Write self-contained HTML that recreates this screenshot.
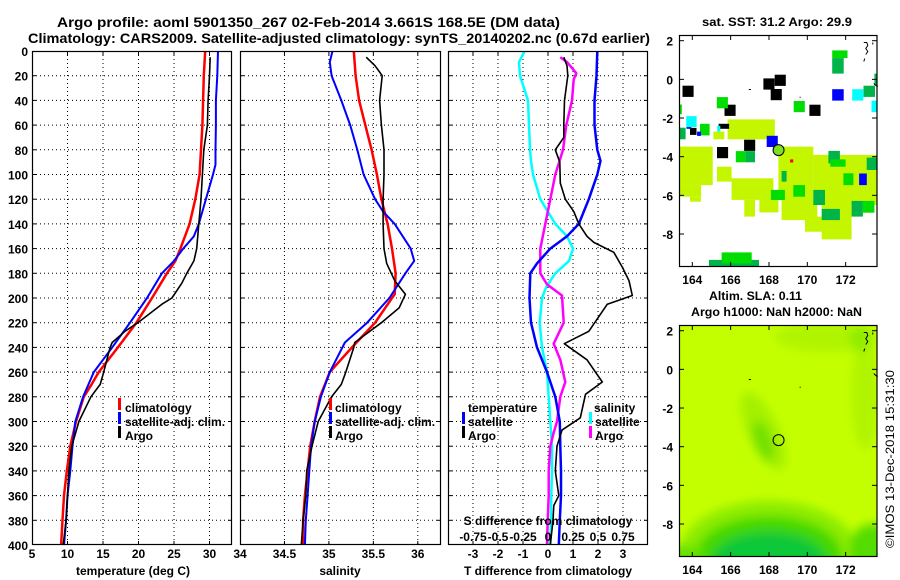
<!DOCTYPE html>
<html><head><meta charset="utf-8">
<style>
html,body{margin:0;padding:0;background:#fff;}
svg{display:block;font-family:"Liberation Sans",Arial,sans-serif;font-weight:bold;}
</style></head>
<body>
<svg id="fig" width="900" height="580" viewBox="0 0 900 580" xmlns="http://www.w3.org/2000/svg">
<defs>
<filter id="blur" x="-20%" y="-20%" width="140%" height="140%"><feGaussianBlur stdDeviation="5"/></filter>
<clipPath id="clipTop"><rect x="679" y="35" width="198" height="232"/></clipPath>
<clipPath id="clipBot"><rect x="679" y="325" width="198" height="232"/></clipPath>
<clipPath id="clipP1"><rect x="32" y="51" width="200" height="494"/></clipPath>
<clipPath id="clipP2"><rect x="240" y="51" width="201" height="494"/></clipPath>
<clipPath id="clipP3"><rect x="448" y="51" width="200" height="494"/></clipPath>
</defs>
<text x="57" y="27" font-size="14" textLength="503" lengthAdjust="spacingAndGlyphs">Argo profile: aoml 5901350_267 02-Feb-2014 3.661S 168.5E (DM data)</text>
<text x="28" y="43" font-size="14" textLength="622" lengthAdjust="spacingAndGlyphs">Climatology: CARS2009. Satellite-adjusted climatology: synTS_20140202.nc (0.67d earlier)</text>
<text x="702" y="26" font-size="12" textLength="150" lengthAdjust="spacingAndGlyphs">sat. SST: 31.2 Argo: 29.9</text>
<text x="709" y="300" font-size="12" textLength="93" lengthAdjust="spacingAndGlyphs">Altim. SLA: 0.11</text>
<text x="691" y="316" font-size="12" textLength="171" lengthAdjust="spacingAndGlyphs">Argo h1000: NaN h2000: NaN</text>
<text transform="translate(894,548) rotate(-90)" font-size="12" font-weight="normal" textLength="178" lengthAdjust="spacingAndGlyphs">©IMOS 13-Dec-2018 15:31:30</text>
<g id="panels"></g>
</svg>
<script>
// ---------------- data ----------------
const depthTicks = [0,20,40,60,80,100,120,140,160,180,200,220,240,260,280,300,320,340,360,380,400];
const tTicks = [5,10,15,20,25,30];
const sTicks = [34,34.5,35,35.5,36];
const dTicks = [-3,-2,-1,0,1,2,3];
const dTopTicks = ['-0.75','-0.5','-0.25','0','0.25','0.5','0.75'];
const lonTicks = [164,166,168,170,172];
const latTicks = [2,0,-2,-4,-6,-8];

const climDepth = [0,20,40,60,80,100,120,140,160,170,180,200,220,240,260,270,280,300,320,340,360,380,400];
const climT = [29.4,29.2,29.1,29.0,28.8,28.6,28.0,27.2,25.9,25.2,24.0,21.9,19.7,17.1,14.4,13.4,12.3,11.2,10.4,9.9,9.5,9.3,9.1];
const satDepth = [0,20,40,60,80,92,100,120,140,150,160,170,180,200,220,240,260,280,300,320,340,360,380,400];
const satT = [31.2,31.1,30.9,30.9,30.85,30.85,30.5,29.5,28.5,27.8,26.3,25.0,23.3,21.2,18.8,16.3,13.7,12.2,11.1,10.7,10.4,10.0,9.8,9.5];
const argoTDepth = [5,20,40,60,80,100,120,140,160,170,180,188,200,205,220,227,236,240,260,270,280,300,320,340,360,380,400];
const argoT = [30.1,30.0,29.8,29.7,29.2,29.0,28.8,28.5,28.2,27.8,26.8,26.1,24.7,23.3,19.9,18.1,16.3,16.0,15.1,14.6,13.3,11.6,10.6,10.2,10.0,9.8,9.4];

const climSDepth = [0,20,40,60,80,100,120,140,160,180,197,200,220,240,260,280,300,320,340,360,380,400];
const climS = [35.28,35.30,35.34,35.41,35.48,35.54,35.59,35.66,35.71,35.75,35.74,35.71,35.52,35.26,35.01,34.90,34.84,34.79,34.76,34.73,34.71,34.71];
const satSDepth = [0,9,20,40,60,80,100,120,130,140,160,170,180,200,220,236,260,280,300,320,340,360,380,400];
const satS = [35.04,35.01,35.03,35.14,35.24,35.32,35.39,35.52,35.61,35.74,35.92,35.96,35.86,35.68,35.43,35.18,35.01,34.91,34.84,34.80,34.78,34.76,34.74,34.73];
const argoSDepth = [5,12,20,40,60,80,100,120,140,160,172,186,197,208,220,236,240,260,270,280,300,320,340,360,380,400];
const argoS = [35.42,35.52,35.60,35.57,35.59,35.62,35.62,35.61,35.61,35.62,35.65,35.74,35.86,35.79,35.59,35.29,35.28,35.19,35.14,35.03,34.88,34.81,34.75,34.74,34.71,34.69];

const dTsatDepth = [0,20,40,60,80,89,100,120,140,150,160,172,180,200,220,240,260,280,300,320,340,360,380,400];
const dTsat = [1.97,1.94,1.86,1.86,1.97,2.1,1.97,1.63,1.23,0.76,0.09,-0.44,-0.71,-0.74,-0.68,-0.44,-0.04,0.29,0.47,0.49,0.52,0.52,0.47,0.43];
const dTargoDepth = [5,12,20,40,60,70,80,90,107,120,130,140,150,155,163,175,186,198,205,227,237,250,268,278,297,307,320,340,360,368,380,400];
const dTargo = [0.63,0.76,0.79,0.66,0.63,0.63,0.29,0.47,0.49,0.69,1.03,1.23,1.56,1.83,2.63,2.97,3.24,3.37,2.37,1.63,0.65,1.56,2.17,1.5,1.29,0.56,0.36,0.29,0.43,0.23,0.2,0.09];
const dSsatDepth = [0,9,20,40,60,80,89,100,120,140,150,160,170,180,191,200,220,240,260,280,300,320,340,360,380,400];
const dSsat = [-0.233,-0.29,-0.28,-0.20,-0.19,-0.18,-0.17,-0.15,-0.077,0.073,0.19,0.25,0.21,0.073,-0.017,-0.06,-0.083,-0.06,-0.01,0.007,0.023,0.04,0.04,0.033,0.03,0.023];
const dSargoDepth = [5,9,18,23,40,60,80,100,120,140,160,180,189,198,220,237,250,268,280,300,309,320,340,360,380,400];
const dSargo = [0.123,0.19,0.283,0.257,0.24,0.183,0.15,0.073,0.023,-0.027,-0.077,-0.077,-0.01,0.14,0.157,0.057,0.123,0.173,0.123,0.09,0.057,0.023,0.007,0.007,-0.003,-0.01];

// SST map patches: [lon0, lat0, lon1, lat1, colour]
const sstPatches = [
 [165.84,-3.1,168.3,-2.07,'Y'],[165.1,-3.1,165.67,-2.7,'Y'],
 [163.32,-5.47,165.06,-3.48,'Y'],[163.32,-6.07,164.45,-5.47,'Y'],[163.88,-6.33,164.45,-6.07,'Y'],
 [165.29,-5.29,166.05,-4.52,'Y'],
 [166.05,-6.24,168.23,-5.12,'Y'],[166.71,-7.1,167.27,-6.24,'Y'],[167.5,-6.88,168.49,-6.07,'Y'],
 [168.49,-6.24,170.31,-3.48,'Y'],[168.66,-7.28,170.52,-6.24,'Y'],[169.88,-7.88,170.92,-7.1,'Y'],
 [170.31,-6.5,173.65,-3.91,'Y'],[170.75,-8.28,172.31,-6.5,'Y'],
 [171.1,-4.34,171.7,-3.7,'D'],[171.2,-4.52,172.0,-4.14,'G'],[170.31,-6.5,170.92,-5.72,'D'],
 [172.31,-7.1,172.9,-6.29,'D'],[172.9,-6.9,173.5,-6.29,'G'],[170.75,-7.28,171.7,-6.7,'D'],
 [169.27,-6.07,169.88,-5.47,'G'],[168.1,-6.24,168.83,-5.72,'G'],[168.66,-5.29,168.92,-4.74,'D'],
 [171.88,-5.47,172.4,-4.86,'G'],[173.1,-4.69,173.65,-4.05,'D'],
 [164.87,-9.71,167.48,-9.34,'D'],[165.53,-9.52,167.1,-8.95,'G'],
 [163.32,-1.8,163.45,-1.3,'G'],[163.32,-3.1,163.65,-2.5,'D'],[164.4,-2.9,164.9,-2.3,'G'],
 [163.78-0.29,-0.62-0.29,163.78+0.29,-0.62+0.29,'K'],[168.0-0.29,-0.24-0.29,168.0+0.29,-0.24+0.29,'K'],
 [168.59-0.29,-0.05-0.29,168.59+0.29,-0.05+0.29,'K'],[168.38-0.29,-0.79-0.29,168.38+0.29,-0.79+0.29,'K'],
 [165.97-0.29,-1.6-0.29,165.97+0.29,-1.6+0.29,'K'],[170.4-0.29,-1.6-0.29,170.4+0.29,-1.6+0.29,'K'],
 [166.99-0.29,-3.41-0.29,166.99+0.29,-3.41+0.29,'K'],[165.58-0.29,-3.79-0.29,165.58+0.29,-3.79+0.29,'K'],
 [163.88,-2.87,164.22,-2.51,'K'],[165.37,-2.56,165.92,-2.3,'K'],
 [171.3,-1.1,171.9,-0.51,'B'],[167.88,-3.5,168.46,-2.92,'B'],[172.7,-5.47,173.1,-4.87,'B'],[163.7,-2.56,163.95,-2.33,'B'],[164.25,-2.92,164.45,-2.7,'B'],
 [172.34,-1.1,172.92,-0.51,'C'],[173.35,-1.7,173.65,-1.1,'C'],[163.68,-2.47,164.22,-1.9,'C'],[165.3,-2.7,165.46,-2.4,'C'],
 [165.28,-1.5,165.86,-0.92,'G'],[169.29,-1.7,169.87,-1.12,'G'],[171.3,1.1,172.1,1.5,'G'],[171.3,0.3,171.9,1.1,'D'],
 [166.27,-4.29,166.77,-3.71,'G'],[166.77,-4.29,167.27,-3.71,'D'],[172.93,-0.91,173.53,-0.33,'D'],[173.5,-0.3,173.65,0.3,'D'],
 [169.1,-4.3,169.26,-4.14,'R']
];
const argoLon = [168.5];
const argoLat = [-3.661];

// SLA map blobs: [lon, lat, rx(deg), ry(deg), rotation, colour]
const slaBlobs = [
 [170.9,1.7,2.6,0.8,0,'#b0f400'],[173.0,-1.2,0.7,3.0,0,'#b0f400'],[172.8,1.6,0.6,0.7,0,'#90ec00'],
 [167.7,-3.2,0.8,2.2,-25,'#a4f000'],[167.7,-3.7,0.45,1.1,-20,'#70e000'],
 [168.0,-9.4,4.6,2.6,0,'#8cec00'],[168.0,-9.6,3.8,2.0,0,'#44d800'],[168.0,-9.9,3.0,1.5,0,'#10c838'],
 [173.4,-9.3,1.2,1.3,0,'#55dc00'],[163.6,-9.7,1.0,0.6,0,'#66e000']
];

// ---------------- helpers ----------------
const NS='http://www.w3.org/2000/svg';
const root=document.getElementById('panels');
function mk(tag,attrs,parent){const e=document.createElementNS(NS,tag);for(const k in attrs)e.setAttribute(k,attrs[k]);(parent||root).appendChild(e);return e;}
const yD = d => 51 + d*494/400;
const xT = t => 32 + (t-5)*7.1;
const xS = s => 240 + (s-34)*88.9;
const xDT = v => 548 + v*25;
const xDS = v => 548 + v*100;
const lonX = lon => 692.3 + (lon-164)*19.17;
const latYTop = lat => 40.7 - (lat-2)*19.33;
const latYBot = lat => 330.7 - (lat-2)*19.33;

function panelFrame(x0,x1,gridXs,name){
  const g=mk('g',{});
  
  
  mk('rect',{x:x0,y:51,width:x1-x0,height:494,fill:'#fff',stroke:'none'},g);
  depthTicks.forEach((d,i)=>{ if(i>0&&i<depthTicks.length-1){
    const l=mk('line',{x1:x0,x2:x1,y1:yD(d),y2:yD(d),stroke:'#000','stroke-width':1,'stroke-dasharray':'1,3'},g);
    
    
    mk('line',{x1:x0,x2:x0+4,y1:yD(d),y2:yD(d),stroke:'#000'},g);
    mk('line',{x1:x1-4,x2:x1,y1:yD(d),y2:yD(d),stroke:'#000'},g);
  }});
  gridXs.forEach(x=>{ if(x>x0+1&&x<x1-1){
    const l=mk('line',{x1:x,x2:x,y1:51,y2:545,stroke:'#000','stroke-width':1,'stroke-dasharray':'1,3'},g);
    
    
    mk('line',{x1:x,x2:x,y1:51,y2:55,stroke:'#000'},g);
    mk('line',{x1:x,x2:x,y1:541,y2:545,stroke:'#000'},g);
  }});
  return g;
}
function border(x0,x1,g){mk('rect',{x:x0+0.5,y:51.5,width:x1-x0-1,height:493,fill:'none',stroke:'#000','stroke-width':1.2},g);}
function line(xs,ys,xf,color,w,clip,name,g){
  const pts=xs.map((v,i)=>xf(v).toFixed(1)+','+yD(ys[i]).toFixed(1)).join(' ');
  const p=mk('polyline',{points:pts,fill:'none',stroke:color,'stroke-width':w,'stroke-linejoin':'round','clip-path':'url(#'+clip+')'},g);
  
  
}
function txt(x,y,s,anchor,size,g,name,fill){
  const t=mk('text',{x:x,y:y,'text-anchor':anchor||'start','font-size':size||12,fill:fill||'#000'},g);
  t.textContent=s;
  
  
  return t;
}
function legendBar(x,y,color,g){mk('rect',{x:x,y:y-10,width:3,height:12,fill:color},g);}

// ---------------- panel 1 ----------------
const g1=panelFrame(32,232,tTicks.map(xT),'temperature-panel');
line(climT,climDepth,xT,'#f00',2.5,'clipP1','climatology-temperature-line',g1);
line(satT,satDepth,xT,'#00f',2,'clipP1','satellite-temperature-line',g1);
line(argoT,argoTDepth,xT,'#000',1.6,'clipP1','argo-temperature-line',g1);
border(32,232,g1);
depthTicks.forEach(d=>txt(28,yD(d)+5,String(d),'end',12,g1,'depth-tick-label'));
tTicks.forEach(t=>txt(xT(t),558,String(t),'middle',12,g1,'temperature-tick-label'));
txt(133,575,'temperature (deg C)','middle',12,g1,'temperature-axis-title');
legendBar(118,408,'#f00',g1);txt(125,412,'climatology','start',12,g1,'legend-climatology');
legendBar(118,422,'#00f',g1);txt(125,426,'satellite-adj. clim.','start',12,g1,'legend-satellite');
legendBar(118,436,'#000',g1);txt(125,440,'Argo','start',12,g1,'legend-argo');

// ---------------- panel 2 ----------------
const g2=panelFrame(240,441,sTicks.map(xS),'salinity-panel');
line(climS,climSDepth,xS,'#f00',2.5,'clipP2','climatology-salinity-line',g2);
line(satS,satSDepth,xS,'#00f',2,'clipP2','satellite-salinity-line',g2);
line(argoS,argoSDepth,xS,'#000',1.6,'clipP2','argo-salinity-line',g2);
border(240,441,g2);
sTicks.forEach(s=>txt(xS(s),558,String(s),'middle',12,g2,'salinity-tick-label'));
txt(340,575,'salinity','middle',12,g2,'salinity-axis-title');
legendBar(329,408,'#f00',g2);txt(335,412,'climatology','start',12,g2,'legend-climatology');
legendBar(329,422,'#00f',g2);txt(335,426,'satellite-adj. clim.','start',12,g2,'legend-satellite');
legendBar(329,436,'#000',g2);txt(335,440,'Argo','start',12,g2,'legend-argo');

// ---------------- panel 3 ----------------
const g3=panelFrame(448,648,dTicks.map(xDT),'difference-panel');
line(dSsat,dSsatDepth,xDS,'#0ff',2.5,'clipP3','salinity-satellite-diff-line',g3);
line(dSargo,dSargoDepth,xDS,'#f0f',2.5,'clipP3','salinity-argo-diff-line',g3);
line(dTsat,dTsatDepth,xDT,'#00f',2.5,'clipP3','temperature-satellite-diff-line',g3);
line(dTargo,dTargoDepth,xDT,'#000',1.6,'clipP3','temperature-argo-diff-line',g3);
border(448,648,g3);
dTicks.forEach(v=>txt(xDT(v),558,String(v),'middle',12,g3,'t-diff-tick-label'));
txt(548,575,'T difference from climatology','middle',12,g3,'t-diff-axis-title');
txt(548,525,'S difference from climatology','middle',12,g3,'s-diff-axis-title');
dTopTicks.forEach((s,i)=>txt(xDT(dTicks[i]),541,s,'middle',12,g3,'s-diff-tick-label'));
txt(468,412,'temperature','start',12,g3,'legend-temperature-heading');
legendBar(462,422,'#00f',g3);txt(468,426,'satellite','start',12,g3,'legend-t-satellite');
legendBar(462,436,'#000',g3);txt(468,440,'Argo','start',12,g3,'legend-t-argo');
txt(594,412,'salinity','start',12,g3,'legend-salinity-heading');
legendBar(589,422,'#0ff',g3);txt(595,426,'satellite','start',12,g3,'legend-s-satellite');
legendBar(589,436,'#f0f',g3);txt(595,440,'Argo','start',12,g3,'legend-s-argo');

// ---------------- maps ----------------
const colours={Y:'#c4f600',G:'#00dd00',D:'#00b44a',K:'#000',B:'#0000ff',C:'#00ffff',R:'#ff0000'};
function mapAxes(name){
  const g=mk('g',{});
  
  
  return g;
}
function mapFrame(g,latY,y0,y1){
  mk('rect',{x:679.5,y:y0+0.5,width:197.5,height:y1-y0-1,fill:'none',stroke:'#000','stroke-width':1.2},g);
  latTicks.forEach(l=>{const y=latY(l);
    mk('line',{x1:679,x2:684,y1:y,y2:y,stroke:'#000'},g);mk('line',{x1:872,x2:877,y1:y,y2:y,stroke:'#000'},g);
    txt(673,y+5,String(l),'end',12,g,'latitude-tick-label');});
  lonTicks.forEach(l=>{const x=lonX(l);
    mk('line',{x1:x,x2:x,y1:y0,y2:y0+5,stroke:'#000'},g);mk('line',{x1:x,x2:x,y1:y1-5,y2:y1,stroke:'#000'},g);
    txt(x,y1+17,String(l),'middle',12,g,'longitude-tick-label');});
  const cx=lonX(173.05),cy=latY(1.7);
  mk('path',{d:`M${cx-2},${cy-4} l3,0 l1,3 l-2,3 l2,3 l-2,3 M${cx+7},${cy-4} l0,2 M${cx-1},${cy+12} l-1,3 M${cx+8},${cy+37} l2,2 l2,1`,stroke:'#000','stroke-width':1,fill:'none'},g);
  mk('rect',{x:lonX(166.95),y:latY(-0.5),width:2,height:1,fill:'#000'},g);
  mk('rect',{x:lonX(169.6),y:latY(-0.9),width:1,height:1,fill:'#000'},g);
}
const gm1=mapAxes('sst-map');
mk('rect',{x:679,y:35,width:198,height:232,fill:'#fff'},gm1);
const gp=mk('g',{'clip-path':'url(#clipTop)'},gm1);
sstPatches.forEach(p=>{
  const r=mk('rect',{x:lonX(p[0]).toFixed(1),y:latYTop(p[3]).toFixed(1),width:(lonX(p[2])-lonX(p[0])).toFixed(1),height:(latYTop(p[1])-latYTop(p[3])).toFixed(1),fill:colours[p[4]]},gp);
  
  
});
argoLon.forEach((lon,i)=>{
  const c=mk('circle',{cx:lonX(lon),cy:latYTop(argoLat[i]),r:5.5,fill:'#80e020',stroke:'#000','stroke-width':1},gm1);
  
  
});
mapFrame(gm1,latYTop,35,267);

const gm2=mapAxes('sla-map');
mk('rect',{x:679,y:325,width:198,height:232,fill:'#c4ff00'},gm2);
const gb=mk('g',{'clip-path':'url(#clipBot)'},gm2);
const gbb=mk('g',{filter:'url(#blur)'},gb);
slaBlobs.forEach(b=>{
  const cx=lonX(b[0]),cy=latYBot(b[1]);
  const e=mk('ellipse',{cx:cx,cy:cy,rx:b[2]*19.17,ry:b[3]*19.33,fill:b[5],transform:`rotate(${b[4]} ${cx} ${cy})`},gbb);
  
  
});
argoLon.forEach((lon,i)=>{
  const c=mk('circle',{cx:lonX(lon),cy:latYBot(argoLat[i]),r:5.5,fill:'none',stroke:'#000','stroke-width':1},gm2);
  
  
});
mapFrame(gm2,latYBot,325,557);
</script>
</body></html>
